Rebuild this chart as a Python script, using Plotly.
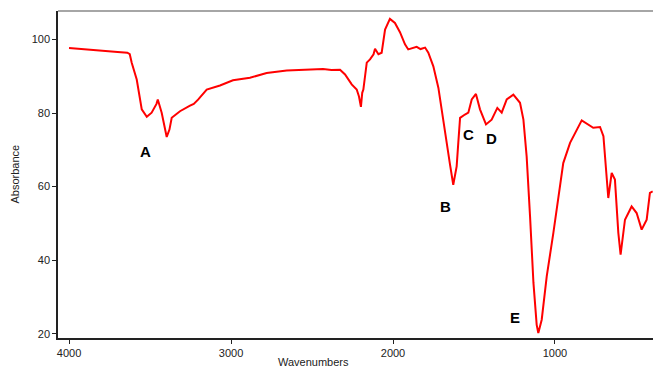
import plotly.graph_objects as go

wavenumbers = [4000, 3900, 3809, 3700, 3640, 3625, 3613, 3582, 3551, 3520, 3490, 3460, 3452,
               3440, 3428, 3397, 3380, 3366, 3315, 3253, 3230, 3202, 3150, 3068, 2988, 2883,
               2780, 2656, 2512, 2432, 2380, 2327, 2296, 2255, 2224, 2210, 2198, 2190, 2183,
               2162, 2142, 2120, 2111, 2090, 2070, 2049, 2019, 2000, 1988, 1957, 1926, 1906,
               1880, 1854, 1830, 1802, 1782, 1751, 1720, 1690, 1669, 1648, 1628, 1607, 1597,
               1586, 1556, 1535, 1514, 1488, 1463, 1426, 1391, 1356, 1329, 1298, 1257, 1216,
               1195, 1175, 1154, 1133, 1113, 1103, 1082, 1051, 1010, 949, 907, 835, 764, 722,
               701, 685, 671, 650, 630, 609, 595, 568, 527, 496, 465, 434, 414, 397]
absorbance = [97.7, 97.4, 97.0, 96.6, 96.4, 96.0, 93.7, 89.1, 81.0, 79.0, 80.1, 82.5, 83.7,
              81.5, 80.1, 73.5, 75.5, 78.7, 80.5, 82.0, 82.5, 83.7, 86.4, 87.5, 88.9, 89.6,
              90.9, 91.6, 91.8, 92.0, 91.7, 91.8, 90.5, 87.8, 86.4, 84.5, 81.7, 85.5, 86.4,
              93.7, 94.6, 96.0, 97.5, 96.0, 96.4, 102.7, 105.6, 105.0, 104.5, 102.0, 98.7, 97.3,
              97.6, 98.0, 97.4, 97.8, 96.4, 92.7, 86.9, 78.2, 71.0, 66.0, 60.5, 65.5, 71.9,
              78.7, 79.6, 80.1, 83.7, 85.2, 81.0, 76.9, 78.2, 81.4, 80.1, 83.7, 85.0, 82.8,
              78.2, 68.2, 51.9, 33.8, 22.4, 20.2, 23.8, 35.6, 47.4, 66.4, 71.9, 78.0, 76.0, 76.2,
              73.7, 65.5, 56.9, 63.7, 61.9, 47.4, 41.5, 51.0, 54.6, 52.8, 48.3, 51.0, 58.3, 58.7]

peak_labels = ["A", "B", "C", "D", "E"]
peak_x = [3525, 1673, 1537, 1395, 1247]
peak_y = [69.5, 54.6, 74.1, 73.1, 24.4]

x_ticks = [4000, 3000, 2000, 1000]
y_ticks = [20, 40, 60, 80, 100]

fig = go.Figure()
fig.add_trace(go.Scatter(x=wavenumbers, y=absorbance, mode="lines",
                         line=dict(color="#ff0000", width=2), showlegend=False))

for lab, px, py in zip(peak_labels, peak_x, peak_y):
    fig.add_annotation(x=px, y=py, text="<b>%s</b>" % lab, showarrow=False,
                       font=dict(family="Liberation Sans, Arial", size=15, color="black"))

fig.add_annotation(xref="paper", yref="paper", x=(313 - 58) / 595, y=-0.048,
                   text="Wavenumbers", showarrow=False, yanchor="top",
                   font=dict(family="Liberation Sans, Arial", size=11, color="#222"))
fig.add_annotation(xref="paper", yref="paper", x=-(58 - 6) / 595, y=0.5,
                   text="Absorbance", showarrow=False, textangle=-90,
                   font=dict(family="Liberation Sans, Arial", size=11, color="#222"))

fig.add_shape(type="line", xref="paper", yref="paper", x0=0, x1=1, y0=1, y1=1,
              line=dict(color="#888888", width=1.5))

fig.update_layout(
    width=653, height=369,
    margin=dict(l=58, r=0, t=11, b=31),
    paper_bgcolor="white", plot_bgcolor="white",
    font=dict(family="Liberation Sans, Arial", size=11, color="#222"),
    xaxis=dict(range=[4068, 395], tickvals=x_ticks, showgrid=False, zeroline=False,
               showline=True, linecolor="#222", linewidth=1.5, ticks="outside",
               ticklen=4, tickcolor="#222"),
    yaxis=dict(range=[18.83, 107.75], tickvals=y_ticks, showgrid=False, zeroline=False,
               showline=True, linecolor="#222", linewidth=1.5, ticks="outside",
               ticklen=4, tickcolor="#222"),
)

fig.write_html("out.html", config={"displayModeBar": False},
               post_script="document.body.style.margin='0';document.body.style.overflow='hidden';")
